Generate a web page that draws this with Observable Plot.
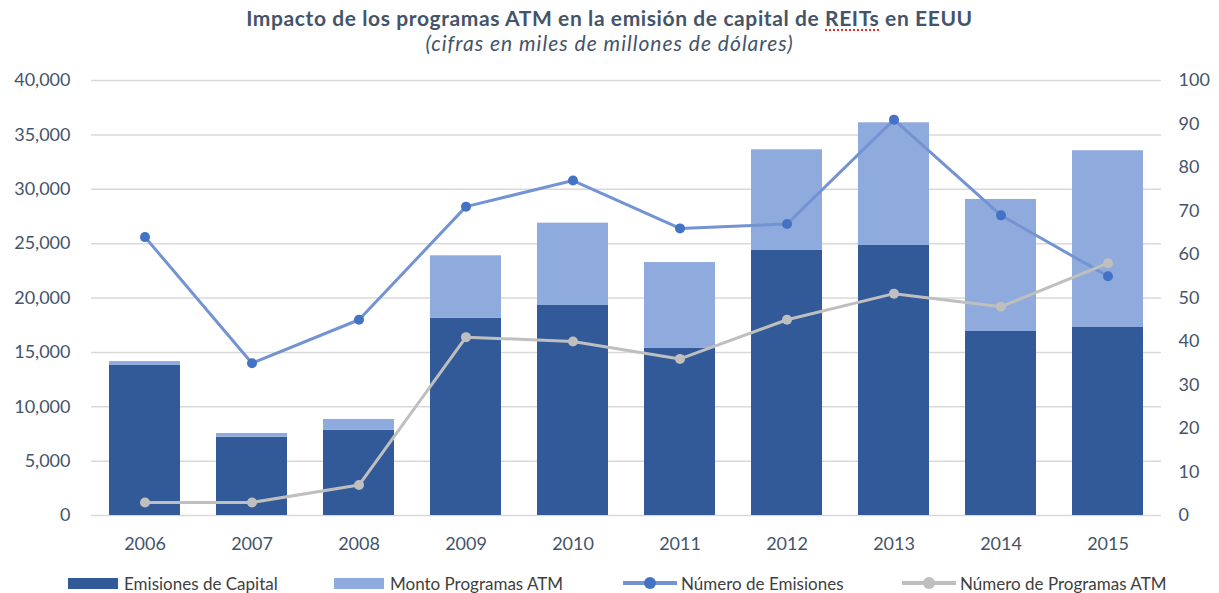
<!DOCTYPE html>
<html>
<head>
<meta charset="utf-8">
<script src="https://cdn.jsdelivr.net/npm/d3@7"></script>
<script src="https://cdn.jsdelivr.net/npm/@observablehq/plot@0.6"></script>
<style>
  html, body { margin: 0; padding: 0; background: #fff; }
  #wrap { position: relative; width: 1219px; height: 593px; font-family: Lato, "Open Sans", sans-serif; }
  #title { position: absolute; top: 5px; left: 0; width: 1219px; text-align: center; font-size: 21px; letter-spacing: 0.6px; font-weight: bold; color: #44546A; line-height: 25px; }
  #subtitle { position: absolute; top: 30px; left: 0; width: 1219px; text-align: center; font-size: 21px; letter-spacing: 1px; font-style: italic; color: #44546A; line-height: 25px; }
  .sq { text-decoration: underline dotted #e03030; text-underline-offset: 3px; }
  #chart { position: absolute; top: 62px; left: 0; }
  .leg { position: absolute; top: 572px; height: 22px; font-size: 17px; color: #404040; display: flex; align-items: center; white-space: nowrap; }
  .sw { width: 50px; height: 11px; margin-right: 6px; }
  .ln { width: 54px; height: 12px; margin-right: 4px; position: relative; }
  .ln .bar { position: absolute; left: 0; top: 4px; width: 54px; height: 4px; }
  .ln .pt { position: absolute; left: 21px; top: 0px; width: 12px; height: 12px; border-radius: 6px; }
</style>
</head>
<body>
<div id="wrap">
  <div id="title">Impacto de los programas ATM en la emisión de capital de <span class="sq">REITs</span> en EEUU</div>
  <div id="subtitle">(cifras en miles de millones de dólares)</div>
  <div id="chart"></div>
  <div id="legend"></div>
</div>
<script>
const years = ["2006","2007","2008","2009","2010","2011","2012","2013","2014","2015"];
const emisionesCapital = [13800, 7200, 7850, 18150, 19310, 15360, 24370, 24830, 16920, 17290];
const montoProgramasATM = [350, 340, 980, 5730, 7570, 7900, 9260, 11280, 12140, 16250];
const numeroEmisiones = [64, 35, 45, 71, 77, 66, 67, 91, 69, 55];
const numeroProgramasATM = [3, 3, 7, 41, 40, 36, 45, 51, 48, 58];
const seriesNames = ["Emisiones de Capital", "Monto Programas ATM", "Número de Emisiones", "Número de Programas ATM"];
const leftTicks = [0, 5000, 10000, 15000, 20000, 25000, 30000, 35000, 40000];
const rightTicks = [0, 10, 20, 30, 40, 50, 60, 70, 80, 90, 100];

const colors = { dark: "#335A98", light: "#8FAADC", blueLine: "#7393D3", blueDot: "#4472C4", gray: "#BFBFBF" };
const k = 400; // right axis (0-100) mapped onto left axis (0-40,000)

const bars = years.flatMap((y, i) => [
  { year: y, serie: seriesNames[0], v: emisionesCapital[i] },
  { year: y, serie: seriesNames[1], v: montoProgramasATM[i] }
]);
const pts = years.map((y, i) => ({ year: y, ne: numeroEmisiones[i], np: numeroProgramasATM[i] }));

const chart = Plot.plot({
  width: 1219, height: 503,
  marginTop: 18, marginBottom: 50, marginLeft: 91, marginRight: 58,
  style: { fontFamily: "Lato, 'Open Sans', sans-serif", fontSize: "18px", color: "#44546A", background: "white" },
  x: { domain: years, paddingInner: 0.336, paddingOuter: 0.168, label: null },
  y: { domain: [0, 40000], label: null },
  color: { domain: seriesNames.slice(0, 2), range: [colors.dark, colors.light] },
  marks: [
    Plot.gridY({ ticks: leftTicks, stroke: "#D9D9D9", strokeOpacity: 1, strokeWidth: 1.5 }),
    Plot.axisY({ ticks: leftTicks, tickFormat: d3.format(","), tickSize: 0, tickPadding: 21, label: null }),
    Plot.axisY({ anchor: "right", ticks: rightTicks.map(t => t * k), tickFormat: d => String(Math.round(d / k)), tickSize: 0, tickPadding: 17, label: null }),
    Plot.axisX({ tickSize: 0, tickPadding: 22, label: null }),
    Plot.barY(bars, { x: "year", y: "v", fill: "serie" }),
    Plot.lineY(pts, { x: "year", y: d => d.ne * k, stroke: colors.blueLine, strokeWidth: 3 }),
    Plot.dot(pts, { x: "year", y: d => d.ne * k, fill: colors.blueDot, r: 5 }),
    Plot.lineY(pts, { x: "year", y: d => d.np * k, stroke: colors.gray, strokeWidth: 3 }),
    Plot.dot(pts, { x: "year", y: d => d.np * k, fill: colors.gray, r: 5 })
  ]
});
document.getElementById("chart").appendChild(chart);

const legend = document.getElementById("legend");
const legItems = [
  { name: seriesNames[0], type: "sw", c: colors.dark, x: 68 },
  { name: seriesNames[1], type: "sw", c: colors.light, x: 334 },
  { name: seriesNames[2], type: "ln", c: colors.blueLine, d: colors.blueDot, x: 623 },
  { name: seriesNames[3], type: "ln", c: colors.gray, d: colors.gray, x: 902 }
];
for (const it of legItems) {
  const el = document.createElement("div");
  el.className = "leg";
  el.style.left = it.x + "px";
  if (it.type === "sw") {
    el.innerHTML = `<div class="sw" style="background:${it.c}"></div><span>${it.name}</span>`;
  } else {
    el.innerHTML = `<div class="ln"><div class="bar" style="background:${it.c}"></div><div class="pt" style="background:${it.d}"></div></div><span>${it.name}</span>`;
  }
  legend.appendChild(el);
}
</script>
</body>
</html>
